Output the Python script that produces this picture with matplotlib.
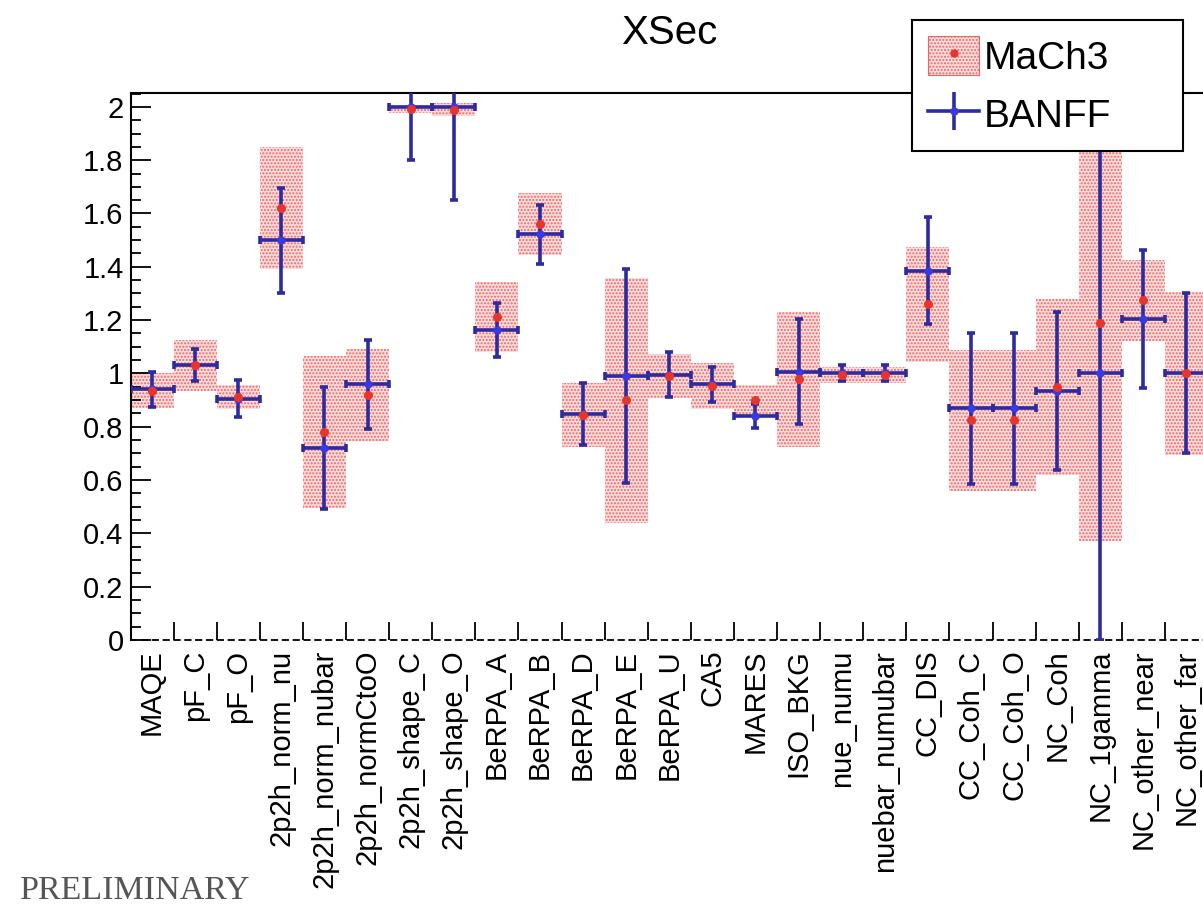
import matplotlib
matplotlib.use("Agg")
import matplotlib.pyplot as plt
import numpy as np
from matplotlib.patches import Patch
from matplotlib.lines import Line2D
from matplotlib.ticker import MultipleLocator, FixedLocator

plt.rcParams["font.family"] = ["Liberation Sans", "DejaVu Sans"]
plt.rcParams["hatch.linewidth"] = 1.0

# parameter names (bins)
labels = ["MAQE", "pF_C", "pF_O", "2p2h_norm_nu", "2p2h_norm_nubar",
          "2p2h_normCtoO", "2p2h_shape_C", "2p2h_shape_O", "BeRPA_A",
          "BeRPA_B", "BeRPA_D", "BeRPA_E", "BeRPA_U", "CA5", "MARES",
          "ISO_BKG", "nue_numu", "nuebar_numubar", "CC_DIS", "CC_Coh_C",
          "CC_Coh_O", "NC_Coh", "NC_1gamma", "NC_other_near", "NC_other_far"]

# MaCh3 posterior (central value, half-width of band)
mach3_val = [0.935, 1.03, 0.91, 1.62, 0.78, 0.918, 1.992, 1.99, 1.213,
             1.56, 0.845, 0.899, 0.99, 0.953, 0.90, 0.978, 0.995, 0.995,
             1.26, 0.824, 0.824, 0.949, 1.19, 1.274, 1.0]
mach3_err = [0.065, 0.095, 0.045, 0.228, 0.286, 0.172, 0.015, 0.025, 0.131,
             0.116, 0.12, 0.459, 0.083, 0.085, 0.055, 0.253, 0.03, 0.03,
             0.216, 0.264, 0.264, 0.33, 0.817, 0.152, 0.305]

# BANFF fit
banff_val = [0.94, 1.03, 0.905, 1.50, 0.72, 0.96, 2.0, 2.0, 1.163, 1.522,
             0.848, 0.99, 0.995, 0.96, 0.84, 1.007, 1.0, 1.0, 1.386, 0.869,
             0.869, 0.934, 1.0, 1.205, 1.0]
banff_err = [0.065, 0.06, 0.07, 0.197, 0.23, 0.167, 0.2, 0.35, 0.10, 0.11,
             0.117, 0.40, 0.085, 0.066, 0.045, 0.197, 0.03, 0.03, 0.20, 0.284,
             0.284, 0.297, 1.0, 0.258, 0.30]

BLUE = "#2c2ca0"
RED = "#e8342c"
BAND_FACE = "#fcdede"
BAND_HATCH = "#ee6464"

W, H = 1203, 909
fig = plt.figure(figsize=(W / 100, H / 100), dpi=100)
n = len(labels)
bin_px = 43.1
left, bottom, top = 130.5, 640, 93
ax = fig.add_axes([left / W, (H - bottom) / H, n * bin_px / W, (bottom - top) / H])

x = np.arange(n) + 0.5
mv = np.array(mach3_val)
me = np.array(mach3_err)

# MaCh3 bands
ax.bar(x, 2 * me, bottom=mv - me, width=1.0, facecolor=BAND_FACE,
       edgecolor=BAND_HATCH, hatch=".....", linewidth=0, zorder=1)

# BANFF crosses
ax.errorbar(x, banff_val, xerr=0.5, yerr=banff_err, fmt="o", color=BLUE,
            ms=5, mfc="#3a3ae0", mec="#3a3ae0", elinewidth=2.6, capsize=3,
            capthick=2.6, zorder=3)

# MaCh3 central values
ax.plot(x, mach3_val, "o", color=RED, ms=5.5, zorder=4)

ax.set_xlim(0, n)
ax.set_ylim(0, 2.052)

ax.set_xticks(x)
ax.set_xticklabels(labels, rotation=90, fontsize=21)
ax.xaxis.set_minor_locator(FixedLocator(np.arange(0, n + 1)))
ax.tick_params(axis="x", which="major", length=0, pad=7)
ax.tick_params(axis="x", which="minor", direction="in", length=13, width=1.3)

ax.yaxis.set_minor_locator(MultipleLocator(0.05))
ax.set_yticks(np.arange(0, 2.01, 0.2))
ax.set_yticklabels(["0", "0.2", "0.4", "0.6", "0.8", "1", "1.2", "1.4",
                    "1.6", "1.8", "2"], fontsize=21)
ax.tick_params(axis="y", which="major", direction="in", length=14.5, width=1.3, pad=5)
ax.tick_params(axis="y", which="minor", direction="in", length=7.5, width=1.3)

ax.spines["bottom"].set_linestyle((0, (3, 3)))
ax.spines["bottom"].set_linewidth(1.3)
for side in ["left", "top", "right"]:
    ax.spines[side].set_linewidth(1.5)

fig.text(669 / W, 1 - 33 / H, "XSec", fontsize=29, ha="center", va="center")
fig.text(20 / W, 3 / H, "PRELIMINARY", fontsize=24.5, color="#555555",
         family=["Liberation Serif", "DejaVu Serif"], ha="left", va="bottom")

mach3_handle = (Patch(facecolor=BAND_FACE, edgecolor=BAND_HATCH, hatch=".....",
                      linewidth=0.8),
                Line2D([], [], ls="", marker="o", color=RED, ms=5))
banff_handle = (Line2D([], [], color=BLUE, lw=2.6, marker="|", ms=27, mew=2.6),
                Line2D([], [], ls="", marker="o", color="#3a3ae0", ms=5))

leg = fig.legend([mach3_handle, banff_handle], ["MaCh3", "BANFF"],
                 loc="upper left",
                 bbox_to_anchor=(912 / W, 1 - 148 / H, 271 / W, 128 / H),
                 mode="expand", fontsize=28, frameon=True, fancybox=False,
                 edgecolor="black", framealpha=1, borderpad=0.42,
                 handlelength=1.3, handleheight=1.15, handletextpad=0.12,
                 labelspacing=0.45, borderaxespad=0)
leg.get_frame().set_linewidth(1.5)

fig.savefig("out.png", dpi=100)
